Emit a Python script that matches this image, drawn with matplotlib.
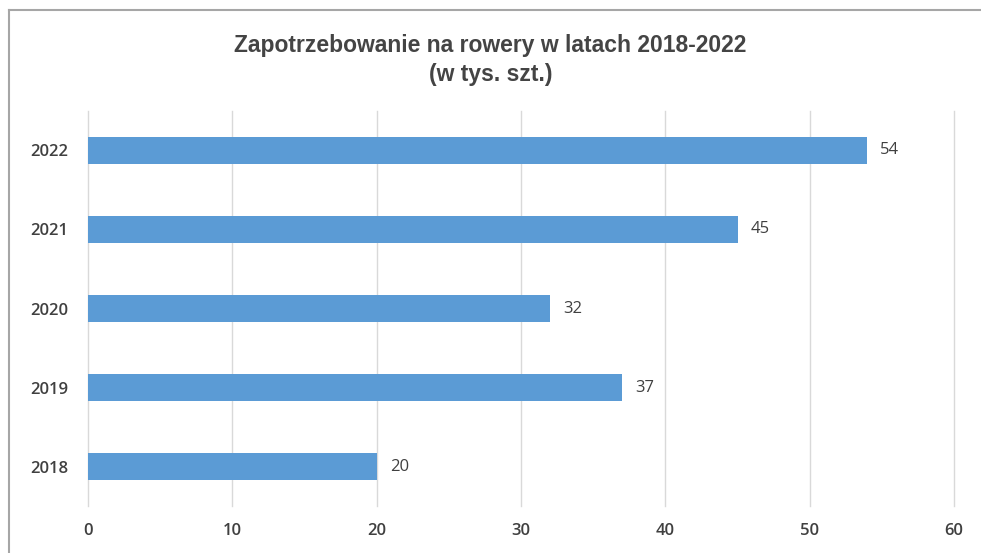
import matplotlib
matplotlib.use("Agg")
import matplotlib.pyplot as plt
from matplotlib.lines import Line2D

years = ["2018", "2019", "2020", "2021", "2022"]
values = [20, 37, 32, 45, 54]
xticks = [0, 10, 20, 30, 40, 50, 60]

plt.rcParams["font.family"] = ["Open Sans", "DejaVu Sans"]

fig = plt.figure(figsize=(9.81, 5.53), dpi=100)
ax = fig.add_axes([0.0897, 0.0841, 0.8828, 0.7159])

pos = range(len(years))
ax.barh(pos, values, height=0.34, color="#5b9bd5")
for y, v in zip(pos, values):
    ax.text(v + 0.9, y, str(v), va="center", ha="left", fontsize=12, color="#404040")

ax.set_xlim(0, 60)
ax.set_ylim(-0.5, 4.5)
ax.set_xticks(xticks)
ax.set_yticks(list(pos))
ax.set_yticklabels(years)
ax.tick_params(length=0, labelsize=12, labelcolor="#404040")
ax.tick_params(axis="x", pad=12)
ax.tick_params(axis="y", pad=14)
for lab in ax.get_xticklabels() + ax.get_yticklabels():
    lab.set_fontweight("semibold")
ax.grid(axis="x", color="#d9d9d9", linewidth=1)
for gl in ax.get_xgridlines():
    gl.set_clip_on(False)
ax.set_axisbelow(True)
for s in ax.spines.values():
    s.set_visible(False)

fig.text(0.5, 0.918, "Zapotrzebowanie na rowery w latach 2018-2022",
         ha="center", va="center", fontsize=16.5, fontweight="bold", color="#444444",
         family=["Liberation Sans", "DejaVu Sans"])
fig.text(0.5, 0.866, "(w tys. szt.)", ha="center", va="center", fontsize=16.5,
         fontweight="bold", color="#444444", family=["Liberation Sans", "DejaVu Sans"])

# ramka zrzutu ekranu (lewa i górna krawędź)
fig.add_artist(Line2D([9 / 981, 9 / 981], [0, 1 - 10 / 553], transform=fig.transFigure,
                      color="#a6a6a6", linewidth=1.5))
fig.add_artist(Line2D([9 / 981, 1], [1 - 10 / 553, 1 - 10 / 553], transform=fig.transFigure,
                      color="#a6a6a6", linewidth=1.5))

fig.savefig("out.png", dpi=100)
